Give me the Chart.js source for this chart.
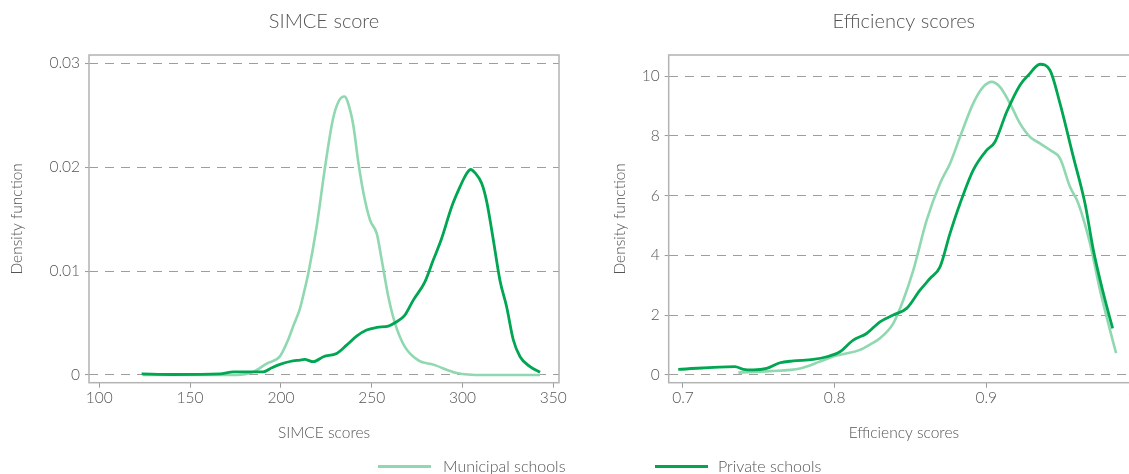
<!DOCTYPE html>
<html>
<head>
<meta charset="utf-8">
<script src="https://cdn.jsdelivr.net/npm/chart.js@4.4.1/dist/chart.umd.min.js"></script>
<style>
html,body{margin:0;padding:0;background:#fff;overflow:hidden;width:1129px;height:474px;}
#w1{position:absolute;left:0;top:0;width:570px;height:474px;}
#w2{position:absolute;left:570px;top:0;width:600px;height:474px;}
.ll{position:absolute;height:3px;width:53px;top:465px;}
.lt{position:absolute;top:456px;font-family:Lato,sans-serif;font-weight:300;font-size:16px;line-height:19px;color:#555;white-space:nowrap;}
</style>
</head>
<body>
<div id="w1"><canvas id="c1" width="570" height="474"></canvas></div>
<div id="w2"><canvas id="c2" width="600" height="474"></canvas></div>
<div class="ll" style="left:378px;background:#8fd8b0"></div>
<div class="lt" style="left:443px">Municipal schools</div>
<div class="ll" style="left:655px;background:#00a651"></div>
<div class="lt" style="left:718px">Private schools</div>
<script>
// ---- SIMCE score panel ----
const simceMunX = [124,140,160,175.6,184.8,192.2,199.5,204,207,210.5,212.5,215.1,219.7,224.3,228.5,231.7,235,238.1,240,242.7,245.5,249.1,252.8,255.5,259.2,262.8,268.3,275.7,283.9,296.8,311.5,342.7];
const simceMunY = [0,0,0,0,0.0003,0.0011,0.0018,0.0034,0.0048,0.0064,0.0078,0.0098,0.0143,0.0200,0.0245,0.0263,0.0268,0.0255,0.0239,0.0204,0.0175,0.0149,0.0136,0.0111,0.0075,0.0050,0.0027,0.0014,0.0010,0.0002,0,0];
const simcePriX = [123.3,140,166.5,173.8,180,190.3,195,199.5,205,210.5,213,217.9,223.4,230.7,236.2,241.7,247.2,252.8,259.2,262.8,268.3,272.9,279.3,283.9,288.5,294,298.6,302.3,304.5,306.9,310.6,313.3,317,320.6,324.3,328,331.7,337.2,342.7];
const simcePriY = [0.0001,0.00005,0.0001,0.0003,0.0003,0.0003,0.0007,0.00103,0.0013,0.00144,0.0015,0.00128,0.00176,0.00208,0.00288,0.00375,0.00433,0.00458,0.00471,0.00503,0.00577,0.00721,0.00897,0.01106,0.01314,0.01618,0.01811,0.01939,0.01978,0.01946,0.01843,0.01671,0.01298,0.00913,0.00657,0.00337,0.00176,0.0008,0.00026];
const simceXTicks = [100,150,200,250,300,350];
const simceXLabels = ['100','150','200','250','300','350'];
const simceYTicks = [0,0.01,0.02,0.03];
const simceYLabels = ['0','0.01','0.02','0.03'];

// ---- Efficiency scores panel ----
const effMunX = [0.7365,0.7574,0.7772,0.7903,0.7991,0.8167,0.8233,0.8299,0.8387,0.8453,0.8519,0.8607,0.8695,0.8761,0.8827,0.8914,0.898,0.9036,0.909,0.9156,0.9222,0.9288,0.9354,0.942,0.9486,0.9552,0.9607,0.9684,0.975,0.9816,0.9856];
const effMunY = [0.08,0.13,0.22,0.45,0.62,0.84,1.02,1.23,1.73,2.51,3.51,5.18,6.41,7.08,7.97,9.09,9.64,9.81,9.64,9.09,8.42,7.97,7.75,7.53,7.25,6.30,5.74,4.40,2.84,1.50,0.73];
const effPriX = [0.6969,0.7343,0.7398,0.7464,0.7552,0.764,0.7727,0.7859,0.7948,0.8035,0.8123,0.8211,0.8299,0.8387,0.8475,0.8563,0.8629,0.8695,0.8761,0.8827,0.8914,0.9003,0.9057,0.9135,0.9222,0.9277,0.9354,0.942,0.9486,0.9574,0.9651,0.9706,0.9772,0.9833];
const effPriY = [0.19,0.28,0.19,0.17,0.22,0.41,0.47,0.52,0.61,0.78,1.17,1.39,1.78,2.01,2.23,2.84,3.23,3.62,4.74,5.74,6.86,7.53,7.80,8.81,9.70,10.03,10.40,10.20,9.09,7.30,5.74,4.18,2.73,1.56];
const effXTicks = [0.7,0.8,0.9,1.0];
const effXLabels = ['0.7','0.8','0.9','1.0'];
const effYTicks = [0,2,4,6,8,10];
const effYLabels = ['0','2','4','6','8','10'];

const seriesNames = ['Private schools','Municipal schools'];
const seriesColors = ['#00a651','#8fd8b0'];

Chart.defaults.font.family = 'Lato, sans-serif';
Chart.defaults.font.weight = '300';
Chart.defaults.color = '#555';

const pts = (xs, ys) => xs.map((x, i) => ({x: x, y: ys[i]}));

const boxPlugin = {
  id: 'box',
  beforeDatasetsDraw(chart) {
    const {ctx, chartArea: a} = chart;
    ctx.save();
    ctx.strokeStyle = '#b3b3b3';
    ctx.lineWidth = 1.5;
    ctx.strokeRect(a.left, a.top, a.right - a.left, a.bottom - a.top);
    ctx.restore();
  }
};

function makeChart(id, cfg) {
  return new Chart(document.getElementById(id), {
    type: 'line',
    data: {
      datasets: [
        {label: seriesNames[0], data: pts(cfg.priX, cfg.priY), borderColor: seriesColors[0], borderWidth: 2.8},
        {label: seriesNames[1], data: pts(cfg.munX, cfg.munY), borderColor: seriesColors[1], borderWidth: 2.6}
      ]
    },
    options: {
      responsive: false,
      animation: false,
      elements: {point: {radius: 0}, line: {cubicInterpolationMode: 'monotone', fill: false}},
      layout: {padding: {top: 0, left: cfg.padLeft, right: cfg.padRight, bottom: 28}},
      plugins: {
        legend: {display: false},
        tooltip: {enabled: false},
        title: {display: true, text: cfg.title, fullSize: false, color: '#555',
                font: {size: 20, weight: '300'}, padding: {top: 10, bottom: 21}}
      },
      scales: {
        x: {
          type: 'linear', min: cfg.xMin, max: cfg.xMax,
          afterBuildTicks: (ax) => { ax.ticks = cfg.xTicks.map(v => ({value: v})); },
          afterFit: (ax) => { ax.height = 63.3; },
          ticks: {autoSkip: false, maxRotation: 0, padding: 1, color: '#555', font: {size: 15.5},
                  callback: (v, i) => cfg.xLabels[i]},
          grid: {drawOnChartArea: false, drawTicks: true, tickLength: 5, tickColor: '#9a9a9a', tickWidth: 1},
          border: {display: false},
          title: {display: true, text: cfg.xTitle, color: '#555', font: {size: 15.5}, padding: {top: 4, bottom: 4}}
        },
        y: {
          type: 'linear', min: cfg.yMin, max: cfg.yMax,
          afterBuildTicks: (ax) => { ax.ticks = cfg.yTicks.map(v => ({value: v})); },
          afterFit: (ax) => { ax.width = cfg.yWidth; },
          ticks: {autoSkip: false, padding: 5, color: '#555', font: {size: 15.5},
                  callback: (v, i) => cfg.yLabels[i]},
          grid: {color: '#9d9d9d', lineWidth: 1.1, drawTicks: true, tickLength: 4, tickColor: '#9a9a9a',
                 tickWidth: 1, tickBorderDash: []},
          border: {display: false, dash: [9, 7]},
          title: {display: true, text: 'Density function', color: '#555', font: {size: 15.5}, padding: {top: 4, bottom: 4}}
        }
      }
    },
    plugins: [boxPlugin]
  });
}

makeChart('c1', {
  title: 'SIMCE score', xTitle: 'SIMCE scores',
  munX: simceMunX, munY: simceMunY, priX: simcePriX, priY: simcePriY,
  xTicks: simceXTicks, xLabels: simceXLabels, yTicks: simceYTicks, yLabels: simceYLabels,
  xMin: 94.33, xMax: 353.14, yMin: -0.00074, yMax: 0.0308,
  padLeft: 4, padRight: 11, yWidth: 85
});

makeChart('c2', {
  title: 'Efficiency scores', xTitle: 'Efficiency scores',
  munX: effMunX, munY: effMunY, priX: effPriX, priY: effPriY,
  xTicks: effXTicks, xLabels: effXLabels, yTicks: effYTicks, yLabels: effYLabels,
  xMin: 0.6906, xMax: 1.0007, yMin: -0.2575, yMax: 10.71,
  padLeft: 37, padRight: 31, yWidth: 61.7
});
</script>
</body>
</html>
